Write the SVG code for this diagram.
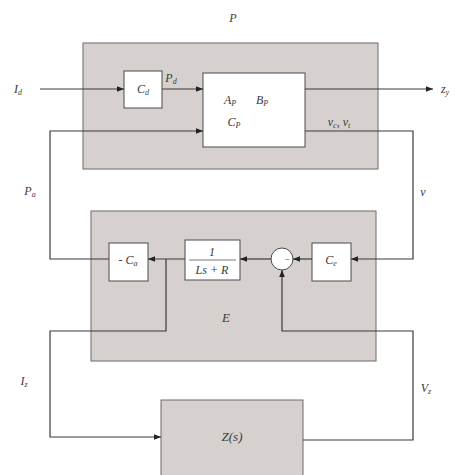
<svg xmlns="http://www.w3.org/2000/svg" width="459" height="475" viewBox="0 0 459 475">
<defs>
<style>
.grp{fill:#d6d1ce;stroke:#6f6a68;stroke-width:1}
.blk{fill:#ffffff;stroke:#4a4a4a;stroke-width:1}
.ln{fill:none;stroke:#3a3a3a;stroke-width:1.2}
.t{font-family:"Liberation Serif","DejaVu Serif",serif;font-style:italic;font-size:12px;fill:#3a3a3a;text-anchor:middle}
.s{font-size:8px}
</style>
<marker id="ar" viewBox="0 0 10 10" refX="10" refY="5" markerWidth="7" markerHeight="7" markerUnits="userSpaceOnUse" orient="auto">
<path d="M0,1 L10,5 L0,9 z" fill="#222"/>
</marker>
</defs>
<rect width="459" height="475" fill="#ffffff"/>
<g id="P">
<rect class="grp" x="83" y="43" width="295" height="126"/>
<text class="t" x="233" y="22">P</text>
</g>
<g id="E">
<rect class="grp" x="91" y="211" width="285" height="150"/>
<text class="t" x="226" y="322" style="font-size:13px">E</text>
</g>
<g id="Z">
<rect class="grp" x="161" y="400" width="142" height="76"/>
<text class="t" x="232" y="441" style="font-size:13px">Z(s)</text>
</g>
<g id="Cd">
<rect class="blk" x="124" y="71" width="38" height="37"/>
<text class="t" x="143" y="93">C<tspan class="s" dy="2">d</tspan></text>
</g>
<g id="plant">
<rect class="blk" x="203" y="73" width="102" height="74"/>
<text class="t" x="230" y="104">A<tspan class="s" dy="2">P</tspan></text>
<text class="t" x="262" y="104">B<tspan class="s" dy="2">P</tspan></text>
<text class="t" x="234" y="126">C<tspan class="s" dy="2">P</tspan></text>
</g>
<g id="negCa">
<rect class="blk" x="109" y="243" width="39" height="38"/>
<text class="t" x="128" y="264">- C<tspan class="s" dy="2">a</tspan></text>
</g>
<g id="tf">
<rect class="blk" x="185" y="240" width="55" height="40"/>
<text class="t" x="212" y="256">1</text>
<line x1="189" y1="260" x2="236" y2="260" stroke="#555" stroke-width="0.8"/>
<text class="t" x="212" y="274">Ls + R</text>
</g>
<g id="sum">
<circle cx="282" cy="259" r="11" fill="#ffffff" stroke="#4a4a4a" stroke-width="1"/>
<text class="t" x="287" y="262" style="font-style:normal;font-size:9px">−</text>
</g>
<g id="Ce">
<rect class="blk" x="312" y="243" width="39" height="38"/>
<text class="t" x="331" y="264">C<tspan class="s" dy="2">e</tspan></text>
</g>
<g id="connectors">
<path class="ln" d="M40,89 H124" marker-end="url(#ar)"/>
<path class="ln" d="M162,89 H203" marker-end="url(#ar)"/>
<path class="ln" d="M305,89 H433" marker-end="url(#ar)"/>
<path class="ln" d="M305,131 H413 V259 H351" marker-end="url(#ar)"/>
<path class="ln" d="M312,259 H293" marker-end="url(#ar)"/>
<path class="ln" d="M271,259 H240" marker-end="url(#ar)"/>
<path class="ln" d="M185,259 H148" marker-end="url(#ar)"/>
<path class="ln" d="M109,259 H50 V131 H203" marker-end="url(#ar)"/>
<path class="ln" d="M166,259 V331 H50 V437 H161" marker-end="url(#ar)"/>
<path class="ln" d="M303,440 H413 V331 H282 V270" marker-end="url(#ar)"/>
</g>
<g id="labels">
<text class="t" x="18" y="93">I<tspan class="s" dy="2">d</tspan></text>
<text class="t" x="171" y="82">P<tspan class="s" dy="2">d</tspan></text>
<text class="t" x="445" y="93">z<tspan class="s" dy="2">y</tspan></text>
<text class="t" x="339" y="126">v<tspan class="s" dy="2">c</tspan><tspan dy="-2">, v</tspan><tspan class="s" dy="2">t</tspan></text>
<text class="t" x="30" y="195">P<tspan class="s" dy="2">a</tspan></text>
<text class="t" x="423" y="196">v</text>
<text class="t" x="24" y="385">I<tspan class="s" dy="2">z</tspan></text>
<text class="t" x="426" y="392">V<tspan class="s" dy="2">z</tspan></text>
</g>
</svg>
